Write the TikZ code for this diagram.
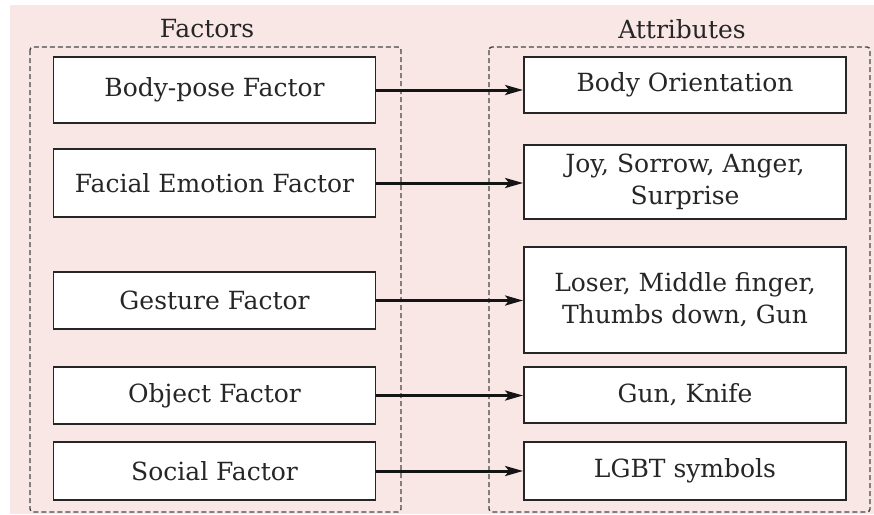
\documentclass[tikz,border=0pt]{standalone}
\usepackage{fontspec}
\setmainfont{DejaVu Serif}
\usetikzlibrary{arrows.meta}
\definecolor{bgpink}{HTML}{F9E7E5}
\definecolor{inkgray}{HTML}{262626}
\tikzset{
  x=1pt, y=-1pt,
  itembox/.style={draw=inkgray, line width=1.8pt, fill=white, text=inkgray,
    minimum width=322pt, align=center, inner sep=0pt,
    font=\fontsize{25}{32}\selectfont},
  groupbox/.style={draw=inkgray!85, line width=1.4pt, dash pattern=on 5pt off 3pt,
    rounded corners=3pt},
  title/.style={text=inkgray, font=\fontsize{25}{30}\selectfont},
  link/.style={line width=3pt, draw=black!92,
    -{Stealth[length=18pt, width=10pt, inset=4pt]}}
}
\begin{document}
\begin{tikzpicture}
\useasboundingbox (0,0) rectangle (874,514);
\fill[white] (0,0) rectangle (874,514);
\fill[bgpink] (10,5) rectangle (874,514);

% group frames
\draw[groupbox] (30,47) rectangle (401,512);
\draw[groupbox] (489,47) rectangle (870,512);
\node[title] (tf) at (207,29) {Factors};
\node[title] (ta) at (682,29) {Attributes};

% factors
\node[itembox, minimum height=66pt] (f1) at (214.5,90) {Body-pose Factor};
\node[itembox, minimum height=68pt] (f2) at (214.5,183) {Facial Emotion Factor};
\node[itembox, minimum height=57pt] (f3) at (214.5,300.5) {Gesture Factor};
\node[itembox, minimum height=57pt] (f4) at (214.5,395.5) {Object Factor};
\node[itembox, minimum height=58pt] (f5) at (214.5,471) {Social Factor};

% attributes
\node[itembox, minimum height=56pt] (a1) at (685,85) {Body Orientation};
\node[itembox, minimum height=74pt] (a2) at (685,182) {Joy, Sorrow, Anger,\\Surprise};
\node[itembox, minimum height=106pt] (a3) at (685,300) {Loser, Middle finger,\\Thumbs down, Gun};
\node[itembox, minimum height=56pt] (a4) at (685,395) {Gun, Knife};
\node[itembox, minimum height=58pt] (a5) at (685,471) {LGBT symbols};

% links
\foreach \i in {1,...,5}
  \draw[link] (f\i.east) -- (f\i.east -| a\i.west);
\end{tikzpicture}
\end{document}
